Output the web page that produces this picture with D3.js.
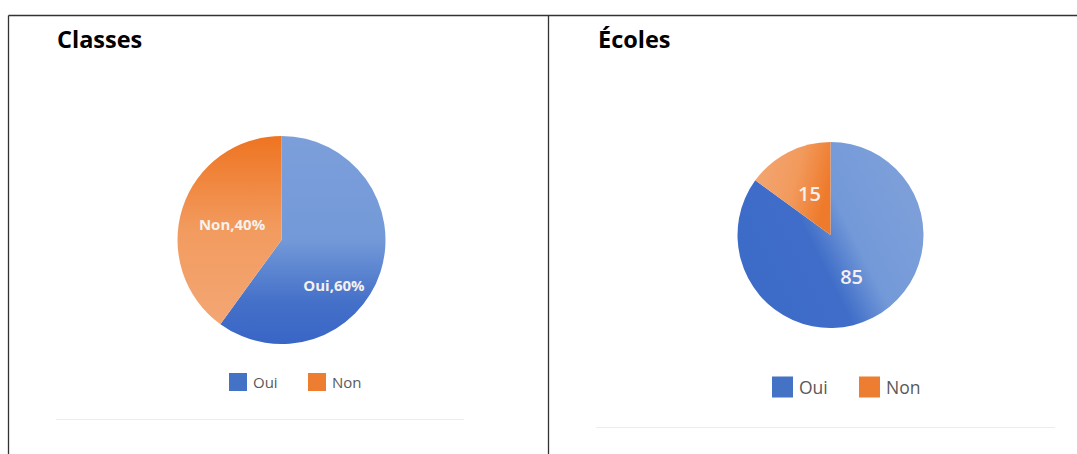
<!DOCTYPE html>
<html>
<head>
<meta charset="utf-8">
<script src="https://cdn.jsdelivr.net/npm/d3@7"></script>
<style>
  html, body { margin: 0; padding: 0; background: #fff; }
  svg { display: block; }
</style>
</head>
<body>
<svg id="chart" width="1077" height="454"></svg>
<script>
// Répartition Oui / Non pour les classes et pour les écoles
const categories = ["Oui", "Non"];
const classesValues = [60, 40];
const ecolesValues = [85, 15];
const classesLabels = ["Oui,60%", "Non,40%"];
const ecolesLabels = ["85", "15"];
const titles = ["Classes", "Écoles"];

const svg = d3.select("#chart");

// Table frame
const frame = svg.append("g").attr("stroke", "#333").attr("stroke-width", 1.3).attr("fill", "none");
frame.append("line").attr("x1", 8.5).attr("x2", 1077).attr("y1", 15.5).attr("y2", 15.5);
frame.append("line").attr("x1", 8.5).attr("x2", 8.5).attr("y1", 15.5).attr("y2", 454);
frame.append("line").attr("x1", 548.5).attr("x2", 548.5).attr("y1", 15.5).attr("y2", 454);

const defs = svg.append("defs");

const panels = [
  {
    title: titles[0], titleX: 57, values: classesValues, labels: classesLabels,
    cx: 281.5, cy: 240, r: 104,
    labelFont: "bold 15px 'Open Sans', sans-serif", labelColor: "#f4f1ee",
    labelNudge: [[3, 29], [0, 0]],
    grads: [
      { x1: 0, y1: -1, x2: 0, y2: 1, stops: [["0%", "#7c9fda"], ["50%", "#7399d8"], ["80%", "#4470c9"], ["100%", "#3966c6"]] },
      { x1: 0, y1: -1, x2: 0, y2: 0.8, stops: [["0%", "#ee7421"], ["50%", "#f29b5f"], ["100%", "#f3a673"]] }
    ],
    legend: { y: 382, size: 18, font: "15px 'Open Sans', sans-serif", x0: 229, step: 79, gap: 6 },
    rule: { x1: 56, x2: 464, y: 419 }
  },
  {
    title: titles[1], titleX: 598, values: ecolesValues, labels: ecolesLabels,
    cx: 830.5, cy: 235, r: 93,
    labelFont: "600 20px 'Open Sans', sans-serif", labelColor: "#f3f0ee",
    labelNudge: [[0, 0], [0, 0]],
    grads: [
      { x1: -0.8, y1: 0.4, x2: 0.8, y2: -0.4, stops: [["0%", "#3d6bc8"], ["38%", "#3f6dc8"], ["62%", "#7399d8"], ["100%", "#7c9fda"]] },
      { x1: -0.8, y1: -0.8, x2: 0, y2: -0.6, stops: [["0%", "#f3a673"], ["55%", "#f29a5d"], ["100%", "#ee7a2b"]] }
    ],
    legend: { y: 387, size: 21, font: "17.5px 'Open Sans', sans-serif", x0: 772, step: 87, gap: 6 },
    rule: { x1: 596, x2: 1055, y: 427 }
  }
];

const legendColors = ["#4472c4", "#ed7d31"];

panels.forEach((p, pi) => {
  const g = svg.append("g");

  g.append("text")
    .attr("x", p.titleX).attr("y", 48)
    .attr("font-family", "'Open Sans', sans-serif")
    .attr("font-weight", 700).attr("font-size", 23.5)
    .attr("fill", "#000")
    .text(p.title);

  // Gradients for each slice, in the pie's local coordinates
  p.grads.forEach((gd, i) => {
    const lg = defs.append("linearGradient")
      .attr("id", `grad-${pi}-${i}`)
      .attr("gradientUnits", "userSpaceOnUse")
      .attr("x1", gd.x1 * p.r).attr("y1", gd.y1 * p.r)
      .attr("x2", gd.x2 * p.r).attr("y2", gd.y2 * p.r);
    gd.stops.forEach(([o, c]) => lg.append("stop").attr("offset", o).attr("stop-color", c));
  });

  const pie = d3.pie().sort(null).value(d => d);
  const arcs = pie(p.values);
  const arc = d3.arc().innerRadius(0).outerRadius(p.r);
  const labelArc = d3.arc().innerRadius(p.r * 0.5).outerRadius(p.r * 0.5);

  const pg = g.append("g").attr("transform", `translate(${p.cx},${p.cy})`);

  pg.selectAll("path").data(arcs).join("path")
    .attr("d", arc)
    .attr("fill", (d, i) => `url(#grad-${pi}-${i})`);

  pg.selectAll("text.lbl").data(arcs).join("text")
    .attr("class", "lbl")
    .attr("x", (d, i) => labelArc.centroid(d)[0] + p.labelNudge[i][0])
    .attr("y", (d, i) => labelArc.centroid(d)[1] + p.labelNudge[i][1])
    .attr("text-anchor", "middle")
    .attr("dominant-baseline", "central")
    .style("font", p.labelFont)
    .attr("fill", p.labelColor)
    .text((d, i) => p.labels[i]);

  // Legend
  const L = p.legend;
  const lg = g.append("g");
  categories.forEach((c, i) => {
    const x = L.x0 + i * L.step;
    lg.append("rect")
      .attr("x", x).attr("y", L.y - L.size / 2)
      .attr("width", L.size).attr("height", L.size)
      .attr("fill", legendColors[i]);
    lg.append("text")
      .attr("x", x + L.size + L.gap).attr("y", L.y)
      .attr("dominant-baseline", "central")
      .style("font", L.font)
      .attr("fill", "#595959")
      .text(c);
  });

  g.append("line")
    .attr("x1", p.rule.x1).attr("x2", p.rule.x2)
    .attr("y1", p.rule.y + 0.5).attr("y2", p.rule.y + 0.5)
    .attr("stroke", "#ececec").attr("stroke-width", 1);
});
</script>
</body>
</html>
